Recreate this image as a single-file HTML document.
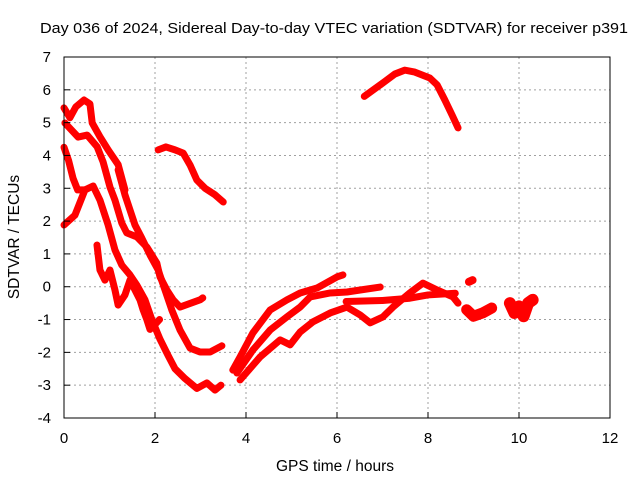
<!DOCTYPE html>
<html><head><meta charset="utf-8"><style>
body{margin:0;background:#fff}
svg{display:block;font-family:"Liberation Sans",sans-serif}
</style></head><body>
<svg id="chart" width="640" height="480">
<rect width="640" height="480" fill="#fff"/>
<text x="334" y="33" font-size="15" text-anchor="middle" textLength="588" lengthAdjust="spacingAndGlyphs">Day 036 of 2024, Sidereal Day-to-day VTEC variation (SDTVAR) for receiver p391</text>
<text x="335" y="471" font-size="15.5" text-anchor="middle">GPS time / hours</text>
<text x="0" y="0" font-size="15.5" text-anchor="middle" transform="translate(19,237) rotate(-90)">SDTVAR / TECUs</text>
<g id="grid"></g>
<g id="series"></g>
<rect x="64" y="57" width="546" height="361" fill="none" stroke="#000" stroke-width="1"/>
<g id="ticks"></g>
</svg>
<script>
const xTicks=[0,2,4,6,8,10,12];
const yTicks=[-4,-3,-2,-1,0,1,2,3,4,5,6,7];
const sA=[[0,5.45],[0.13,5.15],[0.26,5.48],[0.44,5.69],[0.57,5.57],[0.62,4.99],[0.79,4.57],[0.97,4.17],[1.19,3.72],[1.34,2.95]];
const sB=[[0.02,4.99],[0.31,4.56],[0.51,4.62],[0.73,4.26],[0.86,3.8],[1.01,3.04],[1.12,2.64],[1.27,1.94],[1.38,1.64],[1.6,1.52],[1.82,1.21],[2.04,0.72],[2.11,0.3],[2.26,-0.1],[2.4,-0.4],[2.55,-0.62],[2.99,-0.4],[3.05,-0.34]];
const sC=[[0,4.25],[0.1,3.85],[0.2,3.3],[0.3,2.95],[0.45,2.95]];
const sD=[[0,1.88],[0.24,2.18],[0.46,2.95],[0.64,3.07],[0.79,2.64],[0.97,1.88],[1.12,1.12],[1.27,0.66],[1.45,0.36],[1.6,0.05],[1.78,-0.4],[1.93,-1.0],[2.11,-1.6],[2.29,-2.1],[2.44,-2.5],[2.66,-2.8],[2.92,-3.1],[3.14,-2.93],[3.32,-3.15],[3.45,-3.0]];
const sE=[[1.19,3.56],[1.34,2.8],[1.56,1.88],[1.71,1.48],[1.89,0.97],[2.07,0.51],[2.22,-0.1],[2.37,-0.71],[2.55,-1.32],[2.77,-1.87],[2.99,-1.99],[3.21,-1.99],[3.47,-1.8]];
const sF=[[0.725,1.27],[0.79,0.51],[0.9,0.2],[1.01,0.51],[1.12,-0.1],[1.19,-0.56],[1.34,-0.25],[1.45,0.2],[1.56,-0.1],[1.67,-0.4],[1.74,-0.71],[1.82,-1.0],[1.89,-1.3],[2.0,-1.15],[2.1,-1.0]];
const sG=[[2.07,4.17],[2.24,4.26],[2.44,4.17],[2.62,4.07],[2.77,3.71],[2.92,3.25],[3.1,3.0],[3.32,2.8],[3.5,2.58]];
const sH=[[6.6,5.8],[6.95,6.15],[7.27,6.48],[7.49,6.6],[7.71,6.54],[8.04,6.36],[8.2,6.15],[8.37,5.69],[8.53,5.23],[8.66,4.84]];
const sI=[[3.71,-2.54],[3.87,-2.14],[4.15,-1.41],[4.53,-0.71],[4.9,-0.4],[5.19,-0.19],[5.56,-0.04],[6.0,0.3],[6.13,0.36]];
const sJ=[[3.8,-2.63],[4.15,-1.93],[4.53,-1.32],[4.9,-0.92],[5.19,-0.62],[5.41,-0.31],[5.85,-0.19],[6.22,-0.16],[6.51,-0.1],[6.95,-0.01]];
const sK=[[3.87,-2.84],[4.31,-2.14],[4.75,-1.62],[4.97,-1.77],[5.19,-1.38],[5.47,-1.07],[5.85,-0.8],[6.22,-0.62],[6.51,-0.86],[6.73,-1.1],[7.01,-0.92],[7.23,-0.62],[7.6,-0.19],[7.89,0.11],[8.2,-0.1],[8.55,-0.31],[8.66,-0.5]];
const sL=[[6.2,-0.45],[7.0,-0.42],[7.6,-0.35],[8.0,-0.25],[8.6,-0.2]];
const sM=[[8.85,-0.7],[9.0,-0.9],[9.2,-0.8],[9.4,-0.65]];
const sN=[[9.8,-0.5],[9.9,-0.8],[10.0,-0.6],[10.1,-0.9],[10.2,-0.5],[10.3,-0.4]];
const sP=[[8.9,0.15],[8.98,0.2]];
const allSeries=[sA,sB,sC,sD,sE,sF,sG,sH,sI,sJ,sK,sL,sM,sN,sP];
const thick=[7,7,7,7,7,7,7,7,7,7,7,7,11,12,8];
const NS='http://www.w3.org/2000/svg';
const X=h=>64+h*(546/12);
const Y=v=>418-(v+4)*(361/11);
const grid=document.getElementById('grid'),ticks=document.getElementById('ticks'),ser=document.getElementById('series');
function mk(tag,attrs,parent){const e=document.createElementNS(NS,tag);for(const k in attrs)e.setAttribute(k,attrs[k]);parent.appendChild(e);return e;}
xTicks.forEach(t=>{
  if(t>0&&t<12){const g=mk('line',{x1:X(t),x2:X(t),y1:57,y2:418,stroke:'#a0a0a0','stroke-dasharray':'2,3'},grid);
  
  }
  const l=mk('text',{x:X(t),y:443,'font-size':15,'text-anchor':'middle'},ticks);l.textContent=t;
  
  
  const a=mk('line',{x1:X(t),x2:X(t),y1:418,y2:412,stroke:'#000'},ticks);
  
  
});
yTicks.forEach(t=>{
  if(t>-4&&t<7){const g=mk('line',{x1:64,x2:610,y1:Y(t),y2:Y(t),stroke:'#a0a0a0','stroke-dasharray':'2,3'},grid);
  
  }
  const l=mk('text',{x:51,y:Y(t)+5,'font-size':15,'text-anchor':'end'},ticks);l.textContent=t;
  
  
  const a=mk('line',{x1:64,x2:70,y1:Y(t),y2:Y(t),stroke:'#000'},ticks);
  
  
});
allSeries.forEach((s,i)=>{
  const p=mk('polyline',{points:s.map(d=>X(d[0])+','+Y(d[1])).join(' '),fill:'none',stroke:'#ff0000','stroke-width':thick[i],'stroke-linejoin':'round','stroke-linecap':'round'},ser);
  
  
});
</script>
</body></html>
